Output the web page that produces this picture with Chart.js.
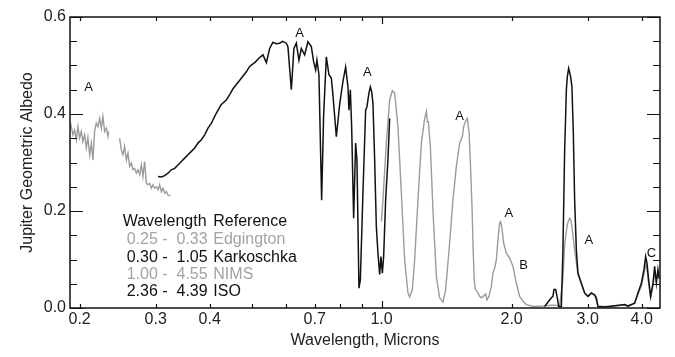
<!DOCTYPE html>
<html><head><meta charset="utf-8">
<script src="https://cdn.jsdelivr.net/npm/chart.js@4.4.1/dist/chart.umd.min.js"></script>
<style>html,body{margin:0;padding:0;background:#fff}canvas{display:block}</style>
</head><body>
<canvas id="c" width="675" height="357"></canvas>
<script>
// ---- data (wavelength in microns, geometric albedo) ----
const edgUvWl  = [0.1906,0.1930,0.1947,0.1965,0.1982,0.2000,0.2018,0.2035,0.2054,0.2073,0.2090,0.2110,0.2129,0.2147,0.2166,0.2186,0.2205,0.2225,0.2245,0.2264,0.2285,0.2306,0.2326,0.2334];
const edgUvAlb = [0.381,0.357,0.367,0.347,0.374,0.351,0.364,0.343,0.357,0.330,0.351,0.316,0.340,0.305,0.364,0.381,0.374,0.391,0.371,0.395,0.364,0.371,0.354,0.364];

const edgWl  = [0.2475,0.2498,0.2519,0.2542,0.2566,0.2588,0.2611,0.2635,0.2657,0.2682,0.2706,0.2729,0.2754,0.2779,0.2803,0.2828,0.2854,0.2879,0.2905,0.2931,0.2956,0.2984,0.3011,0.3037,0.3064,0.3092,0.3119,0.3147,0.3176,0.3203,0.3249];
const edgAlb = [0.350,0.326,0.316,0.333,0.305,0.319,0.292,0.299,0.285,0.288,0.278,0.285,0.275,0.295,0.271,0.302,0.257,0.254,0.257,0.247,0.254,0.247,0.250,0.244,0.254,0.240,0.247,0.237,0.240,0.233,0.231];

const karWl  = [0.3037,0.3092,0.3147,0.3203,0.3261,0.3319,0.3378,0.3440,0.3501,0.3563,0.3628,0.3693,0.3758,0.3827,0.3895,0.3964,0.4037,0.4108,0.4146,
  0.4250,0.4372,0.4450,0.4529,0.4700,0.4863,0.4949,0.5100,0.5200,0.5314,
  0.5411,0.5507,0.5605,0.5700,0.5808,0.5900,0.6019,0.6070,0.6181,0.6267,
  0.6348,0.6437,0.6519,0.6635,0.6753,0.6876,0.6961,0.7036,0.7085,0.7161,
  0.7265,0.7343,0.7449,0.7553,0.7650,0.7716,0.7857,0.7997,0.8138,0.8256,
  0.8358,0.8403,0.8466,0.8525,0.8616,0.8708,0.8769,0.8863,0.8929,0.9054,
  0.9185,0.9249,0.9348,0.9418,0.9484,0.9550,0.9637,0.9724,0.9808,0.9897,
  0.9966,1.0040,1.0110,1.0218,1.0344,1.0439];
const karAlb = [0.271,0.270,0.273,0.278,0.285,0.288,0.295,0.302,0.309,0.316,0.323,0.330,0.340,0.347,0.357,0.371,0.381,0.395,0.402,
  0.419,0.429,0.440,0.452,0.470,0.487,0.498,0.507,0.515,0.522,
  0.506,0.535,0.548,0.545,0.546,0.550,0.546,0.539,0.450,0.535,
  0.546,0.511,0.535,0.522,0.549,0.539,0.508,0.491,0.511,0.481,
  0.222,0.398,0.518,0.481,0.474,0.439,0.353,0.420,0.467,0.497,
  0.456,0.408,0.450,0.374,0.185,0.340,0.305,0.041,0.058,0.237,
  0.408,0.415,0.443,0.456,0.446,0.422,0.305,0.168,0.113,0.069,
  0.106,0.072,0.106,0.223,0.305,0.391];

const nimsWl  = [0.9987,1.0073,1.0257,1.0439,1.0590,1.0721,1.0911,1.1111,1.1308,1.1509,
  1.1613,1.1782,1.1927,1.2139,1.2361,1.2580,1.2695,1.2762,1.2831,1.2968,
  1.3149,1.3390,1.3626,1.3868,1.4069,1.4372,1.4627,1.4895,1.5159,1.5379,
  1.5487,1.5652,1.5795,1.5947,1.6075,1.6204,1.6291,1.6378,1.6465,1.6712,
  1.6864,1.7018,1.7228,1.7412,1.7533,1.7721,1.7949,1.8103,1.8268,1.8434,
  1.8592,1.8761,1.8862,1.8993,1.9165,1.9443,1.9788,2.0139,2.0507,2.0871,
  2.1241,2.1630,2.2396,2.3625,2.4885,2.5831,2.6289,2.6529,2.6770,2.6956,
  2.7245,2.7390,2.7581,2.7981,2.8478,2.8998,2.9513,3.0037,3.0586,3.1129,
  3.1682,3.2833,3.3720,3.6524,3.7173,3.8524,3.9207,3.9925,4.0483,4.0853,
  4.1136,4.1511,4.1955,4.2474,4.2860];
const nimsAlb = [0.178,0.223,0.340,0.429,0.448,0.443,0.374,0.237,0.099,0.031,
  0.023,0.038,0.099,0.223,0.340,0.391,0.405,0.384,0.384,0.333,
  0.202,0.065,0.021,0.012,0.038,0.134,0.223,0.292,0.340,0.353,
  0.374,0.386,0.391,0.360,0.285,0.200,0.120,0.060,0.040,0.031,
  0.024,0.021,0.025,0.029,0.017,0.024,0.044,0.072,0.082,0.099,
  0.141,0.175,0.178,0.165,0.134,0.113,0.103,0.086,0.051,0.024,
  0.014,0.007,0.003,0.004,0.006,0.005,0.060,0.130,0.158,0.175,
  0.185,0.183,0.168,0.120,0.070,0.050,0.030,0.024,0.030,0.026,
  0.004,0.003,0.003,0.006,0.004,0.010,0.028,0.045,0.070,0.090,
  0.080,0.050,0.022,0.045,0.070];

const isoWl  = [2.3841,2.4713,2.4925,2.5057,2.5286,2.5517,2.5694,2.6067,2.6289,2.6529,
  2.6670,2.6770,2.6913,2.7100,2.7390,2.7581,2.7787,2.7981,2.8236,2.8478,
  2.8998,2.9513,3.0037,3.0586,3.1129,3.1413,3.1682,3.2833,3.6524,3.7173,
  3.8524,3.9207,3.9925,4.0483,4.0853,4.1136,4.1511,4.1955,4.2474,4.2860,
  4.3249,4.3621,4.3900];
const isoAlb = [0.003,0.021,0.024,0.038,0.038,0.021,0.003,0.003,0.120,0.326,
  0.395,0.450,0.477,0.494,0.477,0.456,0.360,0.223,0.120,0.072,
  0.051,0.031,0.024,0.031,0.027,0.021,0.003,0.002,0.007,0.004,
  0.010,0.031,0.051,0.079,0.106,0.093,0.058,0.024,0.051,0.086,
  0.051,0.079,0.060];

// axis ticks and labels
const xTickValues = [0.2,0.3,0.4,0.5,0.6,0.7,0.8,0.9,1.0,2.0,3.0,4.0];
const xTickLabels = ['0.2','0.3','0.4','','','0.7','','','1.0','2.0','3.0','4.0'];
const yTickValues = [0.0,0.2,0.4,0.6];
const yMinorTicks = [0.05,0.10,0.15,0.25,0.30,0.35,0.45,0.50,0.55];

// feature annotations
const featText = ['A','A','A','A','A','B','A','C'];
const featWl   = [0.2098,0.646,0.9269,1.5159,1.9715,2.132,3.0198,4.211];
const featAlb  = [0.454,0.567,0.485,0.395,0.196,0.087,0.139,0.112];

// source table
const srcRanges = ['0.25 -  0.33','0.30 -  1.05','1.00 -  4.55','2.36 -  4.39'];
const srcNames  = ['Edgington','Karkoschka','NIMS','ISO'];
const srcColors = ['#a3a3a3','#111111','#a3a3a3','#111111'];

const BLACK = '#111111', GRAY = '#9b9b9b';
const FONT = "'Liberation Sans', Arial, Helvetica, sans-serif";
const pts = (w,a) => w.map((v,i)=>({x:v,y:a[i]}));

const overlay = {
  id:'overlay',
  afterDatasetsDraw(chart){
    const {ctx, chartArea:{left,right,top,bottom}, scales:{x,y}} = chart;
    ctx.save();
    ctx.strokeStyle = BLACK;
    ctx.lineWidth = 1.2;
    const yt = (v,len)=>{ const py = Math.round(y.getPixelForValue(v))+0.5;
      ctx.beginPath(); ctx.moveTo(left,py); ctx.lineTo(left+len,py);
      ctx.moveTo(right,py); ctx.lineTo(right-len,py); ctx.stroke(); };
    yTickValues.forEach(v=>yt(v,13));
    yMinorTicks.forEach(v=>yt(v,7));
    xTickValues.forEach(v=>{ const px = Math.round(x.getPixelForValue(v))+0.5;
      const len = (v===1.0)?7:4;
      ctx.beginPath(); ctx.moveTo(px,bottom); ctx.lineTo(px,bottom-len);
      ctx.moveTo(px,top); ctx.lineTo(px,top+len); ctx.stroke(); });
    ctx.lineWidth = 1.5;
    ctx.strokeRect(left,top,right-left,bottom-top);

    ctx.fillStyle = BLACK;
    ctx.font = '13px ' + FONT;
    ctx.textAlign = 'center'; ctx.textBaseline = 'middle';
    featText.forEach((t,i)=>ctx.fillText(t, x.getPixelForValue(featWl[i]), y.getPixelForValue(featAlb[i])));

    ctx.font = '16px ' + FONT;
    ctx.textAlign = 'left';
    ctx.fillStyle = BLACK;
    ctx.fillText('Wavelength', 122.7, 222);
    ctx.fillText('Reference', 213.3, 222);
    srcRanges.forEach((r,i)=>{
      const yy = 240 + i*17.3;
      ctx.fillStyle = srcColors[i];
      ctx.fillText(r, 126.7, yy);
      ctx.fillText(srcNames[i], 213.3, yy);
    });
    ctx.restore();
  }
};

new Chart(document.getElementById('c'), {
  type:'line',
  data:{ datasets:[
    {label:'Karkoschka', data:pts(karWl,karAlb), borderColor:BLACK, borderWidth:1.5},
    {label:'ISO', data:pts(isoWl,isoAlb), borderColor:BLACK, borderWidth:1.5},
    {label:'NIMS', data:pts(nimsWl,nimsAlb), borderColor:GRAY, borderWidth:1.4},
    {label:'Edgington', data:pts(edgWl,edgAlb), borderColor:GRAY, borderWidth:1.4},
    {label:'Edgington UV', data:pts(edgUvWl,edgUvAlb), borderColor:GRAY, borderWidth:1.4}
  ].map(d=>Object.assign(d,{pointRadius:0, tension:0, fill:false}))},
  options:{
    responsive:false, animation:false,
    layout:{padding:{left:0,right:15,top:17,bottom:0}},
    plugins:{legend:{display:false}, tooltip:{enabled:false}},
    scales:{
      x:{ type:'logarithmic', min:0.19, max:4.41,
        grid:{display:false, drawTicks:false}, border:{display:false},
        afterBuildTicks:s=>{ s.ticks = xTickValues.map(v=>({value:v})); },
        afterFit:s=>{ s.height = 49; },
        ticks:{ autoSkip:false, maxRotation:0, padding:2, color:'#222',
          font:{family:FONT,size:16},
          callback:(v,i)=>xTickLabels[i] },
        title:{display:true, text:'Wavelength, Microns', color:'#222',
          font:{family:FONT,size:16}, padding:{top:0,bottom:7}} },
      y:{ min:0, max:0.6,
        grid:{display:false, drawTicks:false}, border:{display:false},
        afterBuildTicks:s=>{ s.ticks = yTickValues.map(v=>({value:v})); },
        afterFit:s=>{ s.width = 70; },
        ticks:{ padding:4, color:'#222', font:{family:FONT,size:16},
          callback:v=>Number(v).toFixed(1) },
        title:{display:true, text:'Jupiter Geometric Albedo', color:'#222',
          font:{family:FONT,size:16}, padding:{top:18,bottom:0}} }
    }
  },
  plugins:[overlay]
});
</script>
</body></html>
